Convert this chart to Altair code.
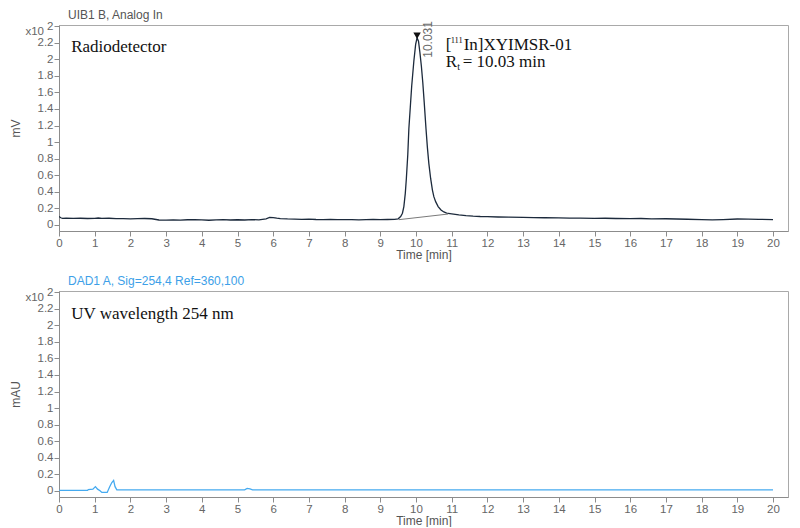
import altair as alt
import pandas as pd

# ---------------- data ----------------
# Radiodetector trace: time [min], signal [x10^2 mV]
radio_t = [0.0, 0.05, 0.1, 0.2, 0.4, 0.6, 0.8, 1.0, 1.1, 1.2, 1.4, 1.6, 1.8, 2.0, 2.2, 2.4,
           2.6, 2.8, 3.0, 3.2, 3.4, 3.6, 3.8, 4.0, 4.2, 4.4, 4.6, 4.8, 5.0, 5.2, 5.4, 5.6,
           5.8, 5.9, 6.0, 6.1, 6.2, 6.4, 6.6, 6.8, 7.0, 7.2, 7.4, 7.6, 7.8, 8.0, 8.2, 8.4,
           8.6, 8.8, 9.0, 9.2, 9.4, 9.5, 9.57, 9.62, 9.66, 9.70, 9.73, 9.77, 9.80, 9.84,
           9.88, 9.94, 9.99, 10.03, 10.07, 10.11, 10.15, 10.19, 10.23, 10.28, 10.32, 10.36,
           10.41, 10.46, 10.50, 10.55, 10.62, 10.70, 10.78, 10.86, 10.95, 11.05, 11.2, 11.4,
           11.6, 11.8, 12.0, 12.3, 12.6, 13.0, 13.3, 13.6, 14.0, 14.3, 14.6, 15.0, 15.3,
           15.6, 16.0, 16.3, 16.6, 17.0, 17.3, 17.6, 18.0, 18.3, 18.6, 19.0, 19.3, 19.6, 20.0]
radio_v = [0.100, 0.085, 0.078, 0.080, 0.077, 0.079, 0.076, 0.078, 0.082, 0.077, 0.079, 0.074,
           0.075, 0.072, 0.074, 0.076, 0.073, 0.058, 0.056, 0.060, 0.057, 0.061, 0.063, 0.060,
           0.055, 0.060, 0.062, 0.058, 0.061, 0.058, 0.062, 0.060, 0.072, 0.088, 0.086, 0.080,
           0.075, 0.071, 0.069, 0.066, 0.069, 0.064, 0.062, 0.065, 0.062, 0.063, 0.062, 0.059,
           0.062, 0.064, 0.062, 0.064, 0.066, 0.072, 0.100, 0.140, 0.220, 0.380, 0.560, 0.850,
           1.160, 1.420, 1.680, 1.980, 2.180, 2.260, 2.220, 2.080, 1.920, 1.720, 1.480, 1.160,
           0.930, 0.740, 0.560, 0.420, 0.340, 0.280, 0.220, 0.180, 0.155, 0.142, 0.136, 0.130,
           0.120, 0.110, 0.104, 0.100, 0.098, 0.094, 0.092, 0.089, 0.087, 0.085, 0.084, 0.081,
           0.080, 0.077, 0.079, 0.076, 0.075, 0.076, 0.072, 0.073, 0.070, 0.067, 0.062, 0.060,
           0.063, 0.070, 0.068, 0.066, 0.062]

# integration baseline under the peak
base_t = [9.52, 10.90]
base_v = [0.062, 0.130]

# UV 254 nm trace: time [min], absorbance [x10^2 mAU]
uv_t = [0.0, 0.8, 0.82, 0.95, 1.02, 1.08, 1.15, 1.2, 1.35, 1.42, 1.48, 1.53, 1.57, 1.62,
        3.0, 5.2, 5.27, 5.35, 5.42, 10.0, 15.0, 20.0]
uv_v = [0.005, 0.005, 0.015, 0.02, 0.05, 0.02, 0.0, -0.02, -0.02, 0.05, 0.10, 0.125, 0.05,
        0.012, 0.012, 0.012, 0.028, 0.022, 0.012, 0.012, 0.012, 0.012]

x_ticks = list(range(0, 21))
y_ticks = [0, 0.2, 0.4, 0.6, 0.8, 1, 1.2, 1.4, 1.6, 1.8, 2, 2.2, 2.4]

peak_t = [10.03]
peak_v = [2.285]
peak_label = ["10.031"]

# ---------------- styling ----------------
W, H = 729, 206
X_DOMAIN = [0, 20.42]
Y_DOMAIN = [-0.075, 2.415]
AX_COL = "#555555"
SANS = "Liberation Sans"
SERIF = "Liberation Serif"

X_AXIS = alt.Axis(values=x_ticks, title="Time [min]", format="d",
                  labelFontSize=11.5, titleFontSize=12, labelColor="#666666",
                  titleColor=AX_COL, labelFont=SANS, titleFont=SANS,
                  titleFontWeight="normal", domainColor="#8c8c8c",
                  tickColor="#8c8c8c", tickSize=5, labelPadding=1,
                  titlePadding=1, grid=False, labelFlush=False, labelOverlap=False)
X_SCALE = alt.Scale(domain=X_DOMAIN, nice=False, zero=False)
Y_SCALE = alt.Scale(domain=Y_DOMAIN, nice=False, zero=False)


def y_axis(title):
    return alt.Axis(values=y_ticks, title=title, format="~g",
                    labelExpr="datum.value > 2.3 ? '2' : datum.label",
                    labelFontSize=11.5, titleFontSize=12, labelColor="#666666",
                    titleColor=AX_COL, labelFont=SANS, titleFont=SANS,
                    titleFontWeight="normal", domainColor="#8c8c8c",
                    tickColor="#8c8c8c", tickSize=5, labelPadding=1,
                    titleX=-37, titleY=H / 2, titleAngle=270,
                    titleAlign="center", titleBaseline="bottom", grid=False,
                    labelOverlap=False, labelFlush=False)


def enc(ytitle):
    return dict(x=alt.X("t:Q", scale=X_SCALE, axis=X_AXIS),
                y=alt.Y("v:Q", scale=Y_SCALE, axis=y_axis(ytitle)))


def panel(t_vals, v_vals, color, title, title_color, ytitle, extras):
    df = pd.DataFrame({"t": t_vals, "v": v_vals})
    line = alt.Chart(df).mark_line(color=color, strokeWidth=1.3, clip=True).encode(
        **enc(ytitle))
    x10 = alt.Chart(pd.DataFrame({"s": ["x10"]})).mark_text(
        align="right", baseline="middle", font=SANS, fontSize=11.5, color="#666666"
    ).encode(x=alt.value(-15), y=alt.value(7), text="s:N")
    ttl = alt.Chart(pd.DataFrame({"s": [title]})).mark_text(
        align="left", baseline="alphabetic", font=SANS, fontSize=12, color=title_color
    ).encode(x=alt.value(9), y=alt.value(-6), text="s:N")
    return alt.layer(line, *extras, x10, ttl).properties(width=W, height=H)


def text_layer(df, ytitle, **kw):
    return alt.Chart(df).mark_text(**kw).encode(**enc(ytitle))


# --- top panel extras ---
base_df = pd.DataFrame({"t": base_t, "v": base_v})
baseline = alt.Chart(base_df).mark_line(color="#7a7a7a", strokeWidth=1).encode(**enc("mV"))
peak_df = pd.DataFrame({"t": peak_t, "v": peak_v, "lab": peak_label})
tri = alt.Chart(peak_df).mark_point(shape="triangle-down", filled=True, color="#111111",
                                    size=55, opacity=1).encode(**enc("mV"))
plabel = alt.Chart(peak_df).mark_text(angle=270, align="left", baseline="middle",
                                      font=SANS, fontSize=12, color="#6b6b6b",
                                      dx=-22, dy=11).encode(text="lab:N", **enc("mV"))

ann_df = pd.DataFrame({"t": [0.34], "v": [2.09], "s": ["Radiodetector"]})
ann_radio = alt.Chart(ann_df).mark_text(align="left", baseline="alphabetic", font=SERIF,
                                        fontSize=17, color="#111111").encode(
    text="s:N", **enc("mV"))

cmpd_df = pd.DataFrame({"t": [10.83], "v": [2.116]})
row1a = text_layer(cmpd_df, "mV", align="left", baseline="alphabetic", font=SERIF,
                   fontSize=17, color="#111111", text="[")
row1b = text_layer(cmpd_df, "mV", align="left", baseline="alphabetic", font=SERIF,
                   fontSize=8.5, color="#111111", text="111", dx=5, dy=-7)
row1c = text_layer(cmpd_df, "mV", align="left", baseline="alphabetic", font=SERIF,
                   fontSize=17, color="#111111", text="In]XYIMSR-01", dx=18)
rt_df = pd.DataFrame({"t": [10.83], "v": [1.91]})
row2a = text_layer(rt_df, "mV", align="left", baseline="alphabetic", font=SERIF,
                   fontSize=17, color="#111111", text="R")
row2b = text_layer(rt_df, "mV", align="left", baseline="alphabetic", font=SERIF,
                   fontSize=10, color="#111111", text="t", dx=11.5, dy=3)
row2c = text_layer(rt_df, "mV", align="left", baseline="alphabetic", font=SERIF,
                   fontSize=17, color="#111111", text="= 10.03 min", dx=17)

top = panel(radio_t, radio_v, "#1c2a3c", "UIB1 B, Analog In", "#555555", "mV",
            [baseline, tri, plabel, ann_radio, row1a, row1b, row1c, row2a, row2b, row2c])

# --- bottom panel extras ---
uv_ann_df = pd.DataFrame({"t": [0.34], "v": [2.08], "s": ["UV wavelength 254 nm"]})
ann_uv = alt.Chart(uv_ann_df).mark_text(align="left", baseline="alphabetic", font=SERIF,
                                        fontSize=17, color="#111111").encode(
    text="s:N", **enc("mAU"))

bottom = panel(uv_t, uv_v, "#45aaf0", "DAD1 A, Sig=254,4 Ref=360,100", "#3d9fe8", "mAU",
               [ann_uv])

chart = alt.vconcat(top, bottom, spacing=13).properties(
    padding={"left": 0, "top": 0, "right": 0, "bottom": 0},
    background="white",
).configure_view(stroke="#a9a9a9", strokeWidth=1)

chart.save("out.html", embed_options={"renderer": "svg", "actions": False})
